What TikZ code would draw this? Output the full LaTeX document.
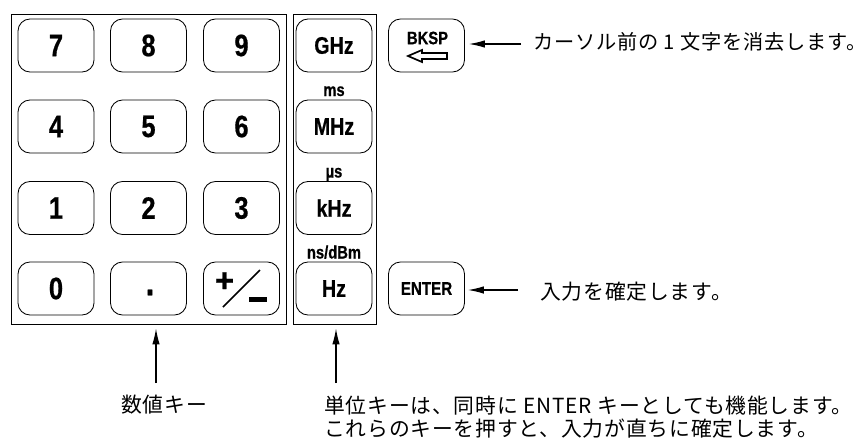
\documentclass[tikz,border=0pt]{standalone}
\usepackage{fontspec}
\newfontfamily\keyfont[FakeStretch=0.82,FakeBold=0.6]{Liberation Sans}
\newfontfamily\plainsans[FakeBold=0.6]{Liberation Sans}
\newfontfamily\jpfont[LetterSpace=4]{Noto Sans CJK JP}
\usetikzlibrary{arrows.meta,calc}
\begin{document}
\begin{tikzpicture}[x=1pt,y=-1pt,
  keybox/.style={draw, line width=0.85pt, rounded corners=12pt, minimum width=76pt, minimum height=53pt, inner sep=0pt, font=\keyfont\bfseries\fontsize{31}{31}\selectfont},
  unitkey/.style={keybox, font=\keyfont\bfseries\fontsize{24}{24}\selectfont},
  panel/.style={draw, line width=0.95pt, inner sep=0pt},
  smalllbl/.style={inner sep=0pt, anchor=base, font=\keyfont\bfseries\fontsize{18}{18}\selectfont},
  jptext/.style={inner sep=0pt, anchor=west, font=\jpfont\fontsize{20.8}{23}\selectfont},
  ptr/.style={-{Latex[length=16pt,width=7.5pt]}, line width=1.2pt}]
\useasboundingbox (0,0) rectangle (868,442);
% panels
\node[panel, minimum width=275pt, minimum height=310pt] (numpad) at (148.5,169) {};
\node[panel, minimum width=83pt, minimum height=310pt] (unitpad) at (334.5,169) {};
% numeric keys
\node[keybox] (k7) at (56,45.5) {7};
\node[keybox] (k8) at (148.5,45.5) {8};
\node[keybox] (k9) at (241.5,45.5) {9};
\node[keybox] (k4) at (56,126.5) {4};
\node[keybox] (k5) at (148.5,126.5) {5};
\node[keybox] (k6) at (241.5,126.5) {6};
\node[keybox] (k1) at (56,208) {1};
\node[keybox] (k2) at (148.5,208) {2};
\node[keybox] (k3) at (241.5,208) {3};
\node[keybox] (k0) at (56,288.5) {0};
\node[keybox] (kdot) at (148.5,288.5) {};
\node[inner sep=0pt, font=\keyfont\bfseries\fontsize{38}{38}\selectfont] (dot) at (150,292.5) {.};
\node[keybox] (kpm) at (241.5,288.5) {};
\node[inner sep=0pt, font=\plainsans\bfseries\fontsize{33}{33}\selectfont] (plus) at (224.5,282) {+};
\draw[line width=1.7pt] (223,307) -- (260,270);
\fill (249,296.5) rectangle (266.5,301.5);
% unit keys
\node[unitkey] (ghz) at (334,45.5) {GHz};
\node[unitkey] (mhz) at (334,126.5) {MHz};
\node[unitkey] (khz) at (334,208) {kHz};
\node[unitkey] (hz) at (334,288.5) {Hz};
\node[smalllbl] (ms) at (334,96) {ms};
\node[smalllbl] (us) at (334,177.5) {µs};
\node[smalllbl] (ns) at (334,258.5) {ns/dBm};
% BKSP and ENTER
\node[keybox] (bksp) at (426.5,45.5) {};
\node[inner sep=0pt, font=\keyfont\bfseries\fontsize{18}{18}\selectfont] (bksplbl) at (427.5,38) {BKSP};
\draw[line width=1.7pt, line join=miter] (408,56) -- (422,50) -- (422,53) -- (447,53) -- (447,59) -- (422,59) -- (422,62) -- cycle;
\node[keybox, font=\keyfont\bfseries\fontsize{18.5}{18.5}\selectfont] (enter) at (426.5,288.5) {ENTER};
% arrows
\coordinate (bksptail) at (521,44);
\draw[ptr] (bksptail) -- ($(bksptail -| bksp.east)+(4,0)$);
\coordinate (entertail) at (518,290);
\draw[ptr] (entertail) -- ($(entertail -| enter.east)+(3,0)$);
\coordinate (numtail) at (156,383);
\draw[ptr] (numtail) -- ($(numtail |- numpad.south)+(0,4)$);
\coordinate (unittail) at (336,383);
\draw[ptr] (unittail) -- ($(unittail |- unitpad.south)+(0,4)$);
% texts
\node[jptext, font=\jpfont\fontsize{20.2}{23}\selectfont] (bksptxt) at (533,42) {カーソル前の 1 文字を消去します。};
\node[jptext] (entertxt) at (540,292) {入力を確定します。};
\node[jptext] (numtxt) at (121,405) {数値キー};
\node[jptext, align=left] (unittxt) at (324,417.5) {単位キーは、同時に ENTER キーとしても機能します。\\これらのキーを押すと、入力が直ちに確定します。};
\end{tikzpicture}
\end{document}
